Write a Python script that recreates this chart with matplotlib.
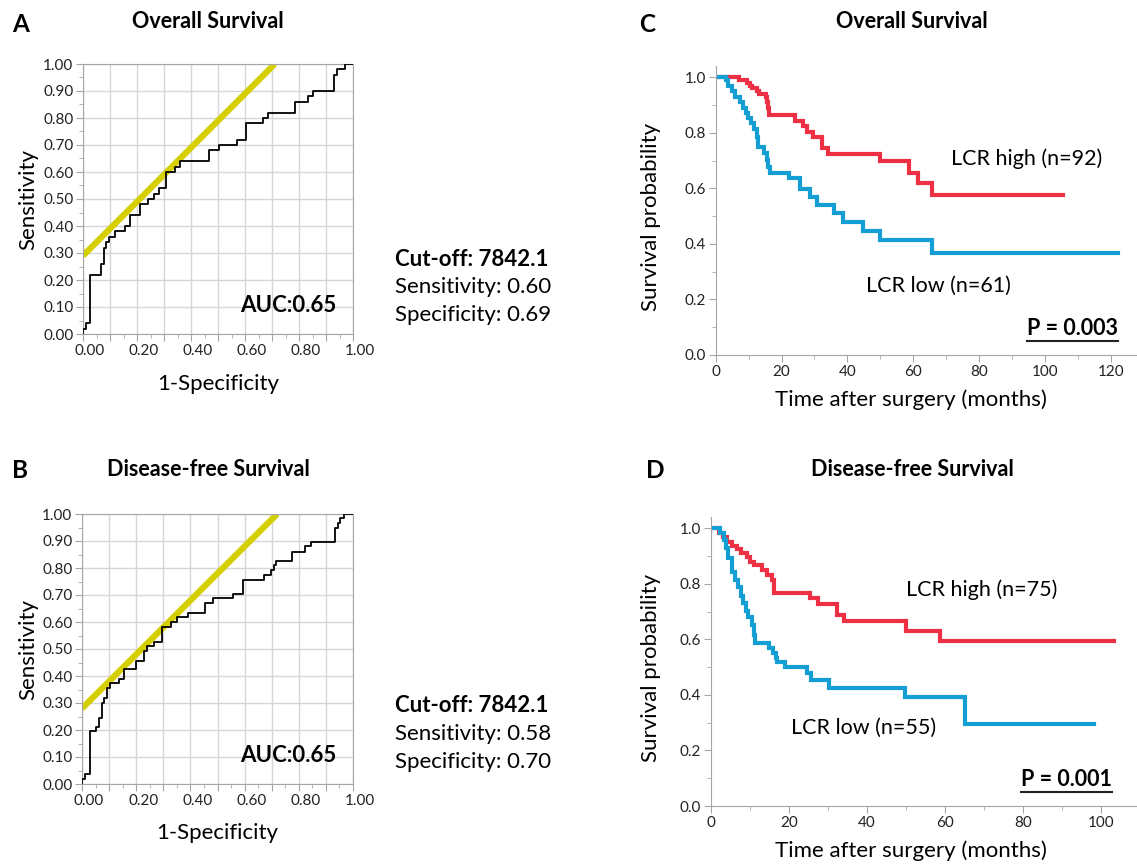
import matplotlib
matplotlib.use("Agg")
import matplotlib.pyplot as plt
from matplotlib.lines import Line2D
import numpy as np

plt.rcParams['font.family'] = ['Lato', 'DejaVu Sans']

# ---- ROC data (corner points: vertical step at previous x, then run to this x)
rocA_fpr = [0, 0.010, 0.027, 0.068, 0.077, 0.086, 0.096, 0.117, 0.154, 0.173, 0.212, 0.241, 0.262, 0.281,
            0.306, 0.340, 0.358, 0.467, 0.502, 0.570, 0.602, 0.667, 0.685, 0.784, 0.833, 0.852, 0.930, 0.941,
            0.969, 1.0]
rocA_tpr = [0, 0.02, 0.04, 0.22, 0.26, 0.32, 0.34, 0.36, 0.38, 0.40, 0.44, 0.48, 0.50, 0.52,
            0.54, 0.60, 0.62, 0.64, 0.68, 0.70, 0.72, 0.78, 0.80, 0.82, 0.86, 0.88, 0.90, 0.96,
            0.98, 1.00]
rocB_fpr = [0, 0.010, 0.031, 0.051, 0.062, 0.072, 0.081, 0.092, 0.102, 0.136, 0.155, 0.201, 0.229, 0.240,
            0.265, 0.296, 0.327, 0.349, 0.392, 0.454, 0.485, 0.558, 0.593, 0.670, 0.697, 0.707, 0.716, 0.774,
            0.824, 0.846, 0.932, 0.943, 0.953, 0.965, 1.0]
rocB_tpr = [0, 0.017, 0.037, 0.196, 0.210, 0.245, 0.300, 0.317, 0.354, 0.373, 0.388, 0.425, 0.457, 0.494,
            0.510, 0.527, 0.583, 0.600, 0.617, 0.635, 0.670, 0.688, 0.702, 0.755, 0.774, 0.793, 0.810, 0.826,
            0.860, 0.880, 0.897, 0.947, 0.965, 0.984, 1.0]
rocA_sens, rocA_spec = 0.60, 0.69
rocB_sens, rocB_spec = 0.58, 0.70
cutoff = 7842.1
auc_A, auc_B = 0.65, 0.65

# ---- Kaplan-Meier data (months, survival)
os_high_t = [0, 7.1, 9.6, 10.4, 11.1, 12.4, 13.2, 15.3, 15.7, 16.0, 16.3, 24.1, 26.6, 27.6, 29.7, 32.4,
             34.2, 49.9, 58.8, 61.5, 65.6, 105.6]
os_high_s = [1.0, 0.990, 0.981, 0.970, 0.960, 0.951, 0.940, 0.930, 0.910, 0.891, 0.864, 0.844, 0.825, 0.804,
             0.784, 0.744, 0.724, 0.699, 0.654, 0.618, 0.576, 0.576]
os_low_t = [0, 3.0, 3.8, 4.9, 5.9, 7.4, 8.4, 9.2, 9.9, 10.7, 11.7, 12.4, 12.8, 14.7, 15.5, 16.0, 16.5,
            22.4, 25.6, 28.6, 30.9, 36.0, 38.8, 44.8, 49.9, 65.6, 122.3]
os_low_s = [1.0, 0.990, 0.970, 0.951, 0.930, 0.910, 0.891, 0.870, 0.852, 0.834, 0.814, 0.784, 0.748, 0.729,
            0.702, 0.676, 0.654, 0.636, 0.597, 0.570, 0.540, 0.513, 0.480, 0.448, 0.414, 0.366, 0.366]
dfs_high_t = [0, 2.0, 3.1, 4.3, 5.4, 6.7, 7.8, 9.2, 10.1, 11.2, 13.1, 14.3, 15.6, 16.2, 25.4, 27.4, 32.3,
              34.2, 50.0, 58.8, 103.3]
dfs_high_s = [1.0, 0.984, 0.968, 0.952, 0.936, 0.924, 0.910, 0.896, 0.880, 0.868, 0.850, 0.832, 0.814, 0.768,
              0.748, 0.728, 0.688, 0.666, 0.631, 0.594, 0.594]
dfs_low_t = [0, 2.4, 3.3, 4.0, 4.5, 5.4, 6.2, 6.9, 7.7, 8.4, 9.1, 9.6, 10.5, 11.1, 11.4, 15.0, 15.9, 16.7,
             17.1, 19.0, 24.6, 25.6, 30.4, 49.8, 65.2, 98.2]
dfs_low_s = [1.0, 0.982, 0.958, 0.928, 0.892, 0.844, 0.814, 0.788, 0.756, 0.730, 0.703, 0.679, 0.652, 0.616,
             0.586, 0.568, 0.550, 0.532, 0.520, 0.502, 0.478, 0.454, 0.424, 0.391, 0.294, 0.294]

RED = '#ee3045'
BLUE = '#139fd3'
YELLOW = '#d5cf00'
SPINE = '#a6a6a6'
GRID = '#d6d6d6'

W, H = 1137, 864
fig = plt.figure(figsize=(W / 100, H / 100), dpi=100)


def px_axes(left, top, right, bottom):
    return fig.add_axes([left / W, 1 - bottom / H, (right - left) / W, (bottom - top) / H])


def roc_panel(ax, fpr, tpr, sens, spec, auc):
    ax.set_xlim(0, 1)
    ax.set_ylim(0, 1)
    ax.plot(fpr, tpr, drawstyle='steps-pre', color='black', lw=1.3, zorder=3)
    # tangent line through the cut-off point (slope 1)
    offset = sens - (1 - spec)
    xs = np.array([0, 1 - offset])
    ax.plot(xs, xs + offset, color=YELLOW, lw=4.5, solid_capstyle='butt', zorder=2)
    ticks = np.round(np.arange(0, 1.01, 0.1), 2)
    ax.set_xticks(ticks)
    ax.set_xticklabels([f'{t:.2f}' if i % 2 == 0 else '' for i, t in enumerate(ticks)])
    ax.set_yticks(ticks)
    ax.set_yticklabels([f'{t:.2f}' for t in ticks])
    ax.set_xticks(np.arange(0.05, 1, 0.1), minor=True)
    ax.set_yticks(np.arange(0.05, 1, 0.1), minor=True)
    ax.grid(True, which='major', color=GRID, lw=1.0)
    ax.set_axisbelow(True)
    for s in ax.spines.values():
        s.set_color(SPINE)
    ax.tick_params(which='major', length=5, color=SPINE, labelsize=11, labelcolor='#222222', pad=2)
    ax.tick_params(which='minor', length=3, color=SPINE)
    for lab in ax.get_xticklabels():
        lab.set_transform(lab.get_transform() + matplotlib.transforms.ScaledTranslation(0.07, 0, fig.dpi_scale_trans))
    ax.text(0.94, 0.105, f'AUC:{auc:.2f}', transform=ax.transAxes, ha='right', va='center',
            fontsize=16, fontweight='bold')
    ax.set_xlabel('1-Specificity', fontsize=16, va='center')
    ax.set_ylabel('Sensitivity', fontsize=16, va='center')


def km_panel(ax, xmax, hi_t, hi_s, lo_t, lo_s):
    ax.plot(hi_t, hi_s, drawstyle='steps-post', color=RED, lw=3.0, solid_joinstyle='miter')
    ax.plot(lo_t, lo_s, drawstyle='steps-post', color=BLUE, lw=3.0, solid_joinstyle='miter')
    ax.set_xlim(0, xmax)
    ax.set_ylim(0, 1.04)
    ax.set_xticks(np.arange(0, xmax, 20))
    ax.set_xticks(np.arange(10, xmax, 20), minor=True)
    ax.set_yticks(np.arange(0, 1.01, 0.2))
    ax.set_yticklabels([f'{v:.1f}' for v in np.arange(0, 1.01, 0.2)])
    ax.set_yticks(np.arange(0.1, 1.0, 0.2), minor=True)
    for s in ['top', 'right']:
        ax.spines[s].set_visible(False)
    for s in ['left', 'bottom']:
        ax.spines[s].set_color(SPINE)
    ax.tick_params(which='major', length=5, color=SPINE, labelsize=11, labelcolor='#222222', pad=2)
    ax.tick_params(which='minor', length=3, color=SPINE)
    ax.set_xlabel('Time after surgery (months)', fontsize=16, va='center')
    ax.set_ylabel('Survival probability', fontsize=16, va='center')


# ---- panel A / B (ROC)
axA = px_axes(83, 64, 353, 334)
roc_panel(axA, rocA_fpr, rocA_tpr, rocA_sens, rocA_spec, auc_A)
axA.xaxis.set_label_coords(0.5, -0.185)
axA.yaxis.set_label_coords(-0.204, 0.5)

axB = px_axes(82, 514, 353, 784)
roc_panel(axB, rocB_fpr, rocB_tpr, rocB_sens, rocB_spec, auc_B)
axB.xaxis.set_label_coords(0.5, -0.18)
axB.yaxis.set_label_coords(-0.199, 0.5)

for top, sens, spec in [(259, rocA_sens, rocA_spec), (706, rocB_sens, rocB_spec)]:
    fig.text(395 / W, 1 - top / H, f'Cut-off: {cutoff}', fontsize=16, fontweight='bold', va='center')
    fig.text(395 / W, 1 - (top + 28) / H, f'Sensitivity: {sens:.2f}', fontsize=16, va='center')
    fig.text(395 / W, 1 - (top + 56) / H, f'Specificity: {spec:.2f}', fontsize=16, va='center')

# ---- panel C / D (Kaplan-Meier)
axC = px_axes(715.7, 66.2, 1137, 355)
km_panel(axC, 128, os_high_t, os_high_s, os_low_t, os_low_s)
axC.xaxis.set_label_coords(0.4636, -0.156)
axC.yaxis.set_label_coords(-0.1536, 0.478)
axC.text(71.4, 0.708, 'LCR high (n=92)', fontsize=15.5, va='center')
axC.text(45.6, 0.248, 'LCR low (n=61)', fontsize=15.5, va='center')
pC = axC.text(122.3, 0.096, 'P = 0.003', fontsize=15.5, fontweight='bold', ha='right', va='center')

axD = px_axes(710.7, 517.2, 1137, 806)
km_panel(axD, 109.2, dfs_high_t, dfs_high_s, dfs_low_t, dfs_low_s)
axD.xaxis.set_label_coords(0.47, -0.156)
axD.yaxis.set_label_coords(-0.141, 0.478)
axD.text(50.0, 0.78, 'LCR high (n=75)', fontsize=15.5, va='center')
axD.text(20.6, 0.28, 'LCR low (n=55)', fontsize=15.5, va='center')
pD = axD.text(102.7, 0.096, 'P = 0.001', fontsize=15.5, fontweight='bold', ha='right', va='center')

# ---- titles and panel letters
for letter, lx, ly in [('A', 12, 25), ('B', 12, 471), ('C', 639, 25), ('D', 646, 471)]:
    fig.text(lx / W, 1 - ly / H, letter, fontsize=17.5, fontweight='bold', va='center', ha='left')
for title, cx, cy in [('Overall Survival', 208, 21), ('Disease-free Survival', 208, 470),
                      ('Overall Survival', 912, 21), ('Disease-free Survival', 912, 470)]:
    fig.text(cx / W, 1 - cy / H, title, fontsize=15.5, fontweight='bold', va='center', ha='center')

# underline the p-values
fig.canvas.draw()
for t in (pC, pD):
    bb = t.get_window_extent()
    y = bb.y0 - 2
    fig.add_artist(Line2D([bb.x0 / W, bb.x1 / W], [y / H, y / H], color='#222222', lw=1.5,
                          transform=fig.transFigure))

fig.savefig('out.png', dpi=100)
